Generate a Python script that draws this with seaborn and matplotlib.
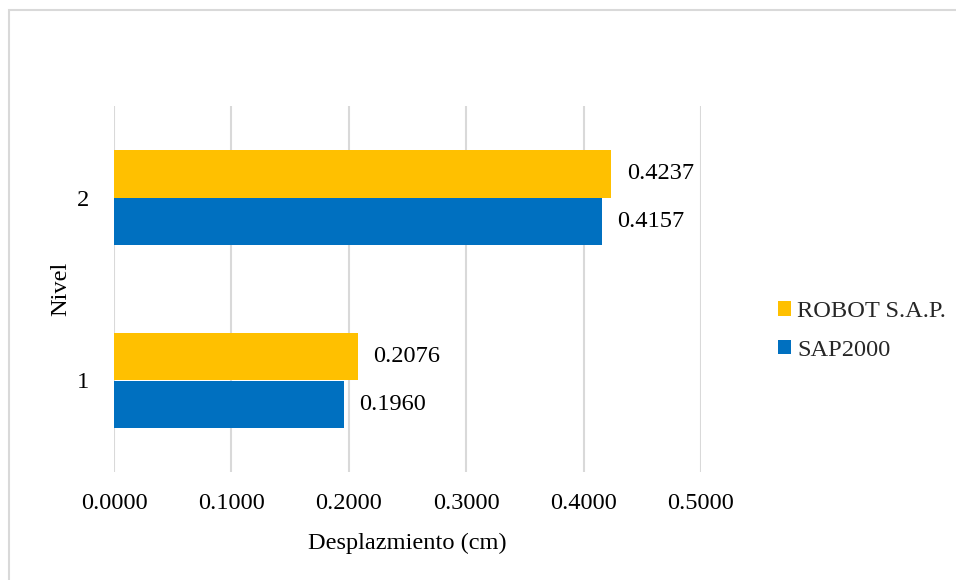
import matplotlib
matplotlib.use("Agg")
import matplotlib.pyplot as plt
import seaborn as sns
import pandas as pd
from matplotlib.patches import Rectangle

# Displacement per level for each program
niveles = ["2", "1"]
series = ["ROBOT S.A.P.", "SAP2000"]
robot = [0.4237, 0.2076]
sap2000 = [0.4157, 0.1960]
xticks = [0.0, 0.1, 0.2, 0.3, 0.4, 0.5]
colores = ["#FFC000", "#0070C0"]

df = pd.DataFrame({
    "Nivel": niveles * 2,
    "Programa": [series[0]] * 2 + [series[1]] * 2,
    "Desplazamiento": robot + sap2000,
})

sns.set_theme(style="white")
plt.rcParams["font.family"] = ["Liberation Serif", "DejaVu Serif"]

FS = 17.6
W, H = 956, 580
fig = plt.figure(figsize=(W / 100, H / 100), dpi=100)
ax = fig.add_axes([114 / W, 1 - 472 / H, (701 - 114) / W, (472 - 106) / H])

sns.barplot(data=df, x="Desplazamiento", y="Nivel", hue="Programa",
            order=niveles, hue_order=series, palette=colores,
            orient="h", width=0.52, gap=0, saturation=1, ax=ax,
            edgecolor="none", linewidth=0)

for cont in ax.containers:
    ax.bar_label(cont, fmt="%.4f", padding=11, fontsize=FS, color="#000000")

ax.set_xlim(0, 0.5)
ax.set_ylim(1.5, -0.5)
ax.set_xticks(xticks)
ax.set_xticklabels([f"{v:.4f}" for v in xticks])
ax.grid(axis="x", color="#D9D9D9", linewidth=1.5)
ax.grid(axis="y", visible=False)
ax.set_axisbelow(True)
for s in ax.spines.values():
    s.set_visible(False)
ax.tick_params(axis="both", length=0, labelsize=FS, colors="#000000")
ax.tick_params(axis="x", pad=15)
ax.tick_params(axis="y", pad=18)

ax.set_xlabel("Desplazmiento (cm)", fontsize=FS, color="#000000", labelpad=14)
ax.set_ylabel("Nivel", fontsize=FS, color="#000000", labelpad=4)

leg = ax.legend(loc="center left", bbox_to_anchor=(768 / W, 1 - 331 / H),
                bbox_transform=fig.transFigure, frameon=False, fontsize=FS,
                handlelength=0.55, handleheight=0.55, handletextpad=0.25,
                labelspacing=0.7, borderaxespad=0)

# Chart area outline
fig.add_artist(Rectangle((9 / W, -0.05), 1.2, 1 - 10 / H + 0.05,
                         transform=fig.transFigure, fill=False,
                         edgecolor="#D9D9D9", linewidth=1.5))

fig.savefig("out.png", dpi=100, facecolor="white")
